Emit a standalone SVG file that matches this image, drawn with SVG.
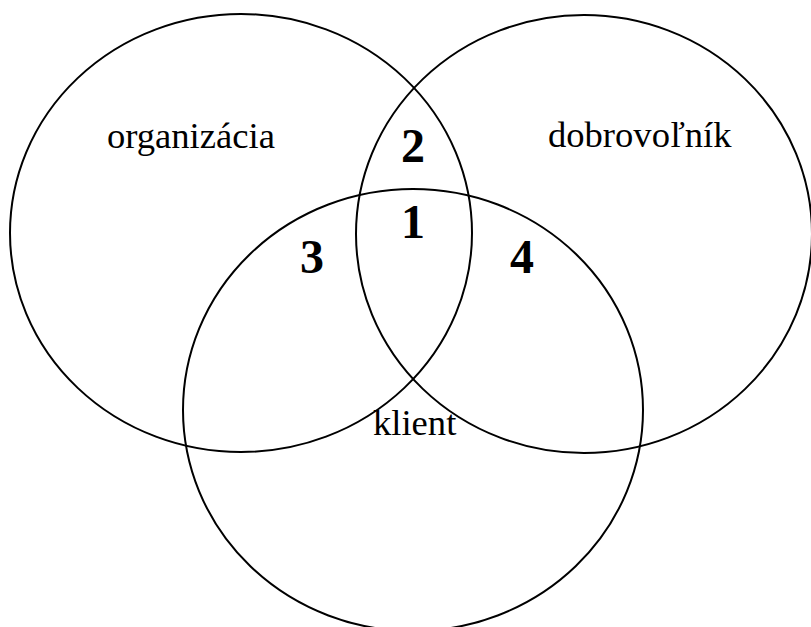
<svg xmlns="http://www.w3.org/2000/svg" width="811" height="627" viewBox="0 0 811 627">
<style>
.c{fill:none;stroke:#000;stroke-width:2}
.t{font-family:"Liberation Serif","Times New Roman",serif;font-size:36.6px;fill:#000}
.n{font-family:"Liberation Serif","Times New Roman",serif;font-size:48px;font-weight:bold;fill:#000;text-anchor:middle}
</style>
<rect width="811" height="627" fill="#fff"/>
<g id="organizacia">
<ellipse class="c" cx="241" cy="233" rx="231" ry="219"/>
<text class="t" x="107" y="148">organizácia</text>
</g>
<g id="dobrovolnik">
<ellipse class="c" cx="584" cy="234" rx="228" ry="219"/>
<text class="t" x="548" y="147">dobrovoľník</text>
</g>
<g id="klient">
<ellipse class="c" cx="413" cy="410" rx="230" ry="221"/>
<text class="t" x="373" y="435">klient</text>
</g>
<g id="regions">
<text class="n" x="413" y="162">2</text>
<text class="n" x="413" y="238">1</text>
<text class="n" x="312" y="273">3</text>
<text class="n" x="522" y="273">4</text>
</g>
<g id="connectors"></g>
</svg>
